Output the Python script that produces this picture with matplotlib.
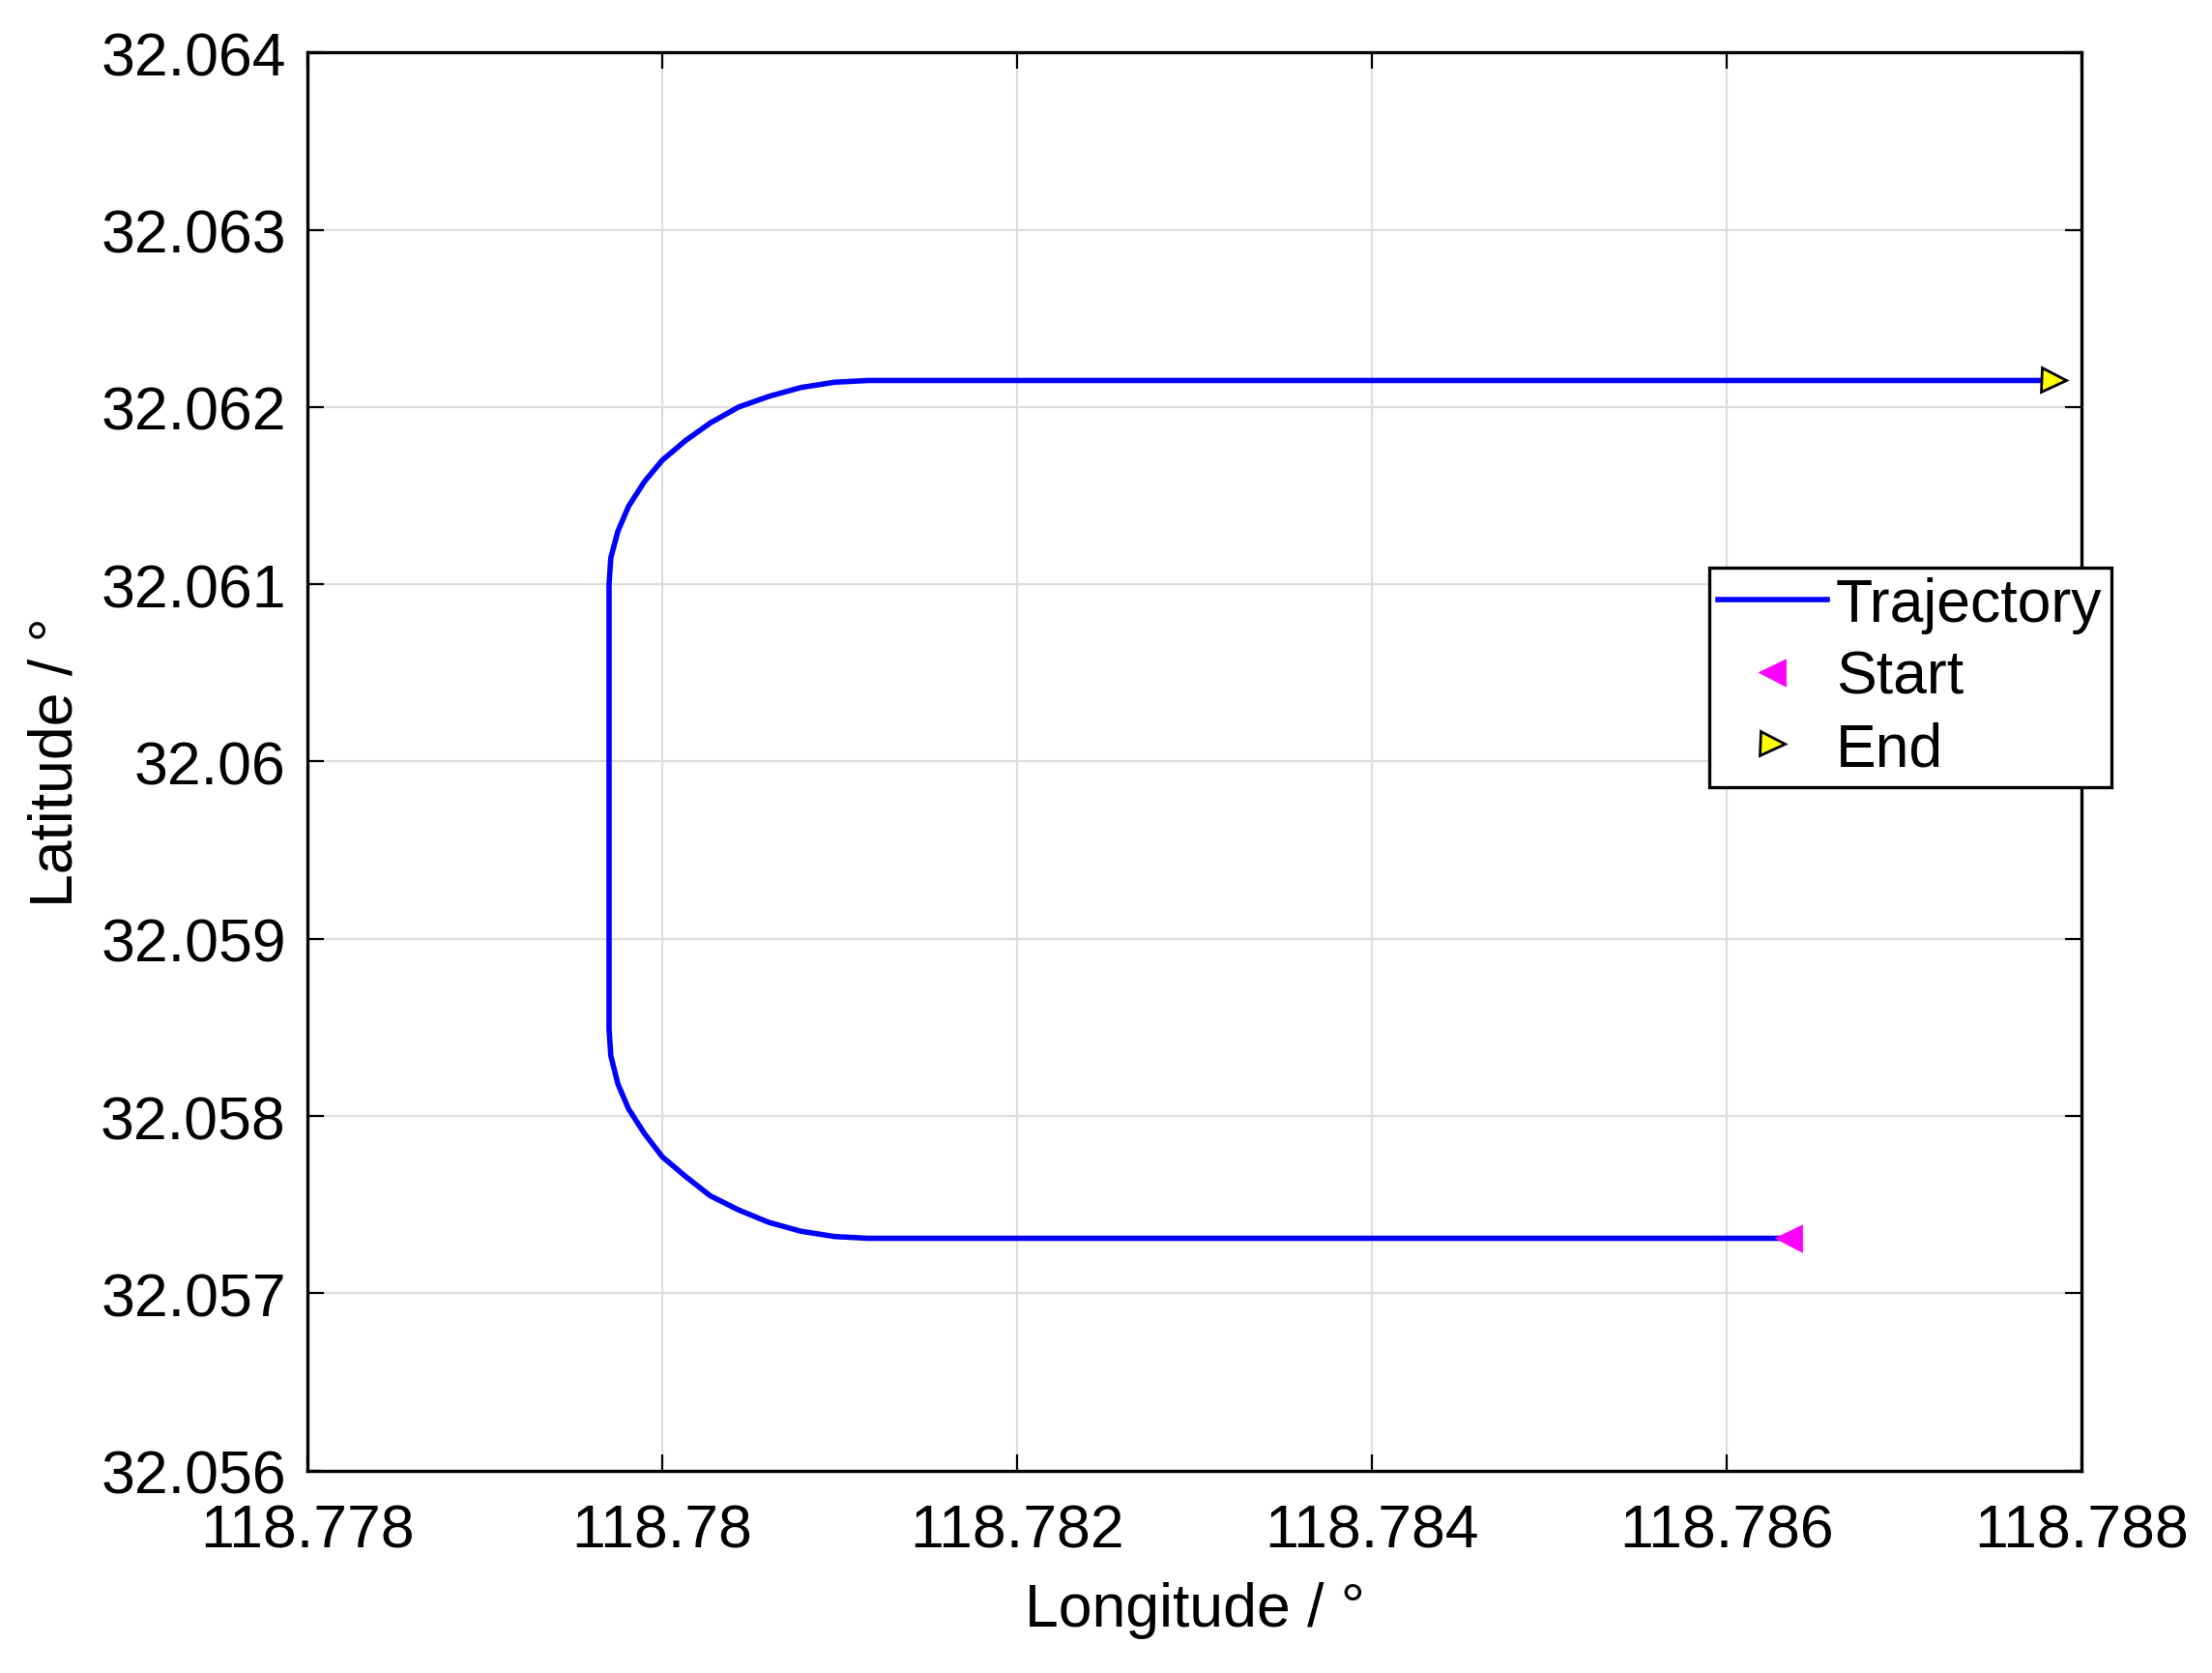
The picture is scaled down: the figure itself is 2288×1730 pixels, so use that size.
import matplotlib.pyplot as plt

plt.rcParams['font.family'] = ['Liberation Sans', 'DejaVu Sans']

# trajectory waypoints (start -> end)
lon = [118.78635, 118.78116,
       118.78097, 118.78078, 118.78060, 118.78043, 118.78027, 118.78013,
       118.78000, 118.77990, 118.77981, 118.77975, 118.77971, 118.7797,
       118.7797,
       118.77971, 118.77975, 118.77981, 118.77990, 118.78000, 118.78013,
       118.78027, 118.78043, 118.78060, 118.78078, 118.78097,
       118.78116, 118.78784]
lat = [32.05731, 32.05731,
       32.05732, 32.05735, 32.05740, 32.05747, 32.05755, 32.05766,
       32.05777, 32.05790, 32.05804, 32.05818, 32.05834, 32.05849,
       32.06100,
       32.06115, 32.06130, 32.06144, 32.06158, 32.06170, 32.06181,
       32.06191, 32.06200, 32.06206, 32.06211, 32.06214,
       32.06215, 32.06215]

xticks = [118.778, 118.78, 118.782, 118.784, 118.786, 118.788]
xlabels = ['118.778', '118.78', '118.782', '118.784', '118.786', '118.788']
yticks = [32.056, 32.057, 32.058, 32.059, 32.06, 32.061, 32.062, 32.063, 32.064]
ylabels = ['32.056', '32.057', '32.058', '32.059', '32.06', '32.061', '32.062', '32.063', '32.064']

fig = plt.figure(figsize=(11.44, 8.655), dpi=200)
ax = fig.add_axes([0.139, 0.121, 0.802, 0.847])

ax.plot(lon, lat, color='blue', lw=2, label='Trajectory')
ax.plot(lon[0], lat[0], '<', color='magenta', ms=9, label='Start')
ax.plot(lon[-1], lat[-1], '>', mfc='yellow', mec='black', ms=9, mew=1, label='End')

ax.set_xlim(118.778, 118.788)
ax.set_ylim(32.056, 32.064)
ax.set_xticks(xticks, xlabels)
ax.set_yticks(yticks, ylabels)
ax.tick_params(labelsize=22.5, direction='in', length=6, top=True, right=True)
ax.tick_params(axis='x', pad=12)
ax.tick_params(axis='y', pad=8)
ax.grid(True, color='#dddddd', lw=0.8)
for s in ax.spines.values():
    s.set_linewidth(1.2)
ax.set_xlabel('Longitude / °', fontsize=22.5, labelpad=8)
ax.set_ylabel('Latitude / °', fontsize=22.5, labelpad=6)

leg = ax.legend(loc='upper left', bbox_to_anchor=(0.79, 0.637), fontsize=22.5, fancybox=False,
                edgecolor='black', framealpha=1, borderpad=0.15, handlelength=1.8,
                handletextpad=0.15, labelspacing=0.25, borderaxespad=0)
leg.get_frame().set_linewidth(1.2)

fig.savefig('out.png')
